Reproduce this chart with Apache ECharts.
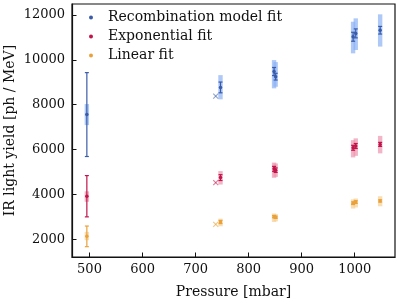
<!DOCTYPE html>
<html><head><meta charset="utf-8">
<script src="https://cdn.jsdelivr.net/npm/echarts@6/dist/echarts.min.js"></script>
<style>html,body{margin:0;padding:0;background:#fff}#c{width:399px;height:299px}</style>
</head><body><div id="c"></div>
<script>
const pressure = [495, 747, 848, 851, 997, 1002, 1048];
const recombValue = [7560, 8770, 9480, 9250, 11030, 11180, 11320];
const recombError = [1870, 240, 180, 150, 200, 200, 170];
const recombBandLow = [7090, 8240, 8730, 8800, 10290, 10440, 10590];
const recombBandHigh = [8030, 9320, 9990, 9900, 11700, 11850, 12030];
const expValue = [3920, 4750, 5140, 5080, 6080, 6160, 6230];
const expError = [920, 130, 110, 100, 110, 110, 90];
const expBandLow = [3670, 4440, 4740, 4780, 5650, 5720, 5830];
const expBandHigh = [4140, 5040, 5420, 5380, 6420, 6500, 6610];
const linValue = [2130, 2770, 3010, 2980, 3610, 3660, 3710];
const linError = [460, 70, 50, 50, 60, 60, 50];
const linBandLow = [1960, 2580, 2770, 2800, 3370, 3420, 3470];
const linBandHigh = [2330, 2920, 3150, 3120, 3780, 3820, 3920];
const crossPressure = [738];
const recombCross = [8380];
const expCross = [4530];
const linCross = [2660];
const xTicks = [500, 600, 700, 800, 900, 1000];
const yTicks = [2000, 4000, 6000, 8000, 10000, 12000];
const names = ['Recombination model fit', 'Exponential fit', 'Linear fit'];

const colors = ['#3a5ca8', '#c0144b', '#e9a23b'];
const bandColors = ['rgba(140,178,245,0.7)', 'rgba(236,150,175,0.7)', 'rgba(245,208,150,0.7)'];
const crossColors = ['rgba(58,92,168,0.55)', 'rgba(192,20,75,0.55)', 'rgba(233,162,59,0.6)'];
const FONT = 'DejaVu Serif';

function bandSeries(lo, hi, color) {
  return {
    type: 'custom', silent: true, z: 1,
    data: pressure.map((p, i) => [p, lo[i], hi[i]]),
    renderItem: (params, api) => {
      const a = api.coord([api.value(0), api.value(2)]);
      const b = api.coord([api.value(0), api.value(1)]);
      return {type: 'rect', shape: {x: a[0] - 2.2, y: a[1], width: 4.4, height: b[1] - a[1]}, style: {fill: color}};
    }
  };
}
function errSeries(val, err, color) {
  return {
    type: 'custom', silent: true, z: 2,
    data: pressure.map((p, i) => [p, val[i] - err[i], val[i] + err[i]]),
    renderItem: (params, api) => {
      const a = api.coord([api.value(0), api.value(2)]);
      const b = api.coord([api.value(0), api.value(1)]);
      const st = {stroke: color, lineWidth: 1.2};
      return {type: 'group', children: [
        {type: 'line', shape: {x1: a[0], y1: a[1], x2: b[0], y2: b[1]}, style: st},
        {type: 'line', shape: {x1: a[0] - 2, y1: a[1], x2: a[0] + 2, y2: a[1]}, style: st},
        {type: 'line', shape: {x1: b[0] - 2, y1: b[1], x2: b[0] + 2, y2: b[1]}, style: st}
      ]};
    }
  };
}
function pointSeries(name, val, color) {
  return {
    type: 'scatter', name: name, z: 3, symbol: 'circle', symbolSize: 3.5,
    itemStyle: {color: color, opacity: 1},
    data: pressure.map((p, i) => [p, val[i]])
  };
}
function crossSeries(val, color) {
  return {
    type: 'custom', silent: true, z: 3,
    data: crossPressure.map((p, i) => [p, val[i]]),
    renderItem: (params, api) => {
      const c = api.coord([api.value(0), api.value(1)]);
      const s = 2.5, st = {stroke: color, lineWidth: 1.1};
      return {type: 'group', children: [
        {type: 'line', shape: {x1: c[0] - s, y1: c[1] - s, x2: c[0] + s, y2: c[1] + s}, style: st},
        {type: 'line', shape: {x1: c[0] - s, y1: c[1] + s, x2: c[0] + s, y2: c[1] - s}, style: st}
      ]};
    }
  };
}

const chart = echarts.init(document.getElementById('c'), null, {renderer: 'canvas'});
chart.setOption({
  animation: false,
  textStyle: {fontFamily: FONT},
  grid: {left: 72, right: 4, top: 4, bottom: 42, show: true, borderColor: '#111', borderWidth: 1.2, containLabel: false, outerBoundsMode: 'none'},
  legend: {
    orient: 'vertical', left: 84, top: 3, itemWidth: 4, itemHeight: 4, itemGap: 0,
    data: names.map((n, i) => ({name: n, icon: 'circle', itemStyle: {color: colors[i]}})),
    textStyle: {fontFamily: FONT, fontSize: 14, color: '#111', lineHeight: 19, padding: [0, 0, 0, 10]},
    selectedMode: false
  },
  xAxis: {
    type: 'value', min: 467, max: 1076,
    name: 'Pressure [mbar]', nameLocation: 'middle', nameGap: 28, nameMoveOverlap: false,
    nameTextStyle: {fontFamily: FONT, fontSize: 14, color: '#111'},
    axisLine: {lineStyle: {color: '#111', width: 1.2}},
    axisTick: {inside: true, length: 4.5, lineStyle: {color: '#111', width: 1}, customValues: xTicks},
    axisLabel: {fontFamily: FONT, fontSize: 13, color: '#111', margin: 6, customValues: xTicks, formatter: v => String(v)},
    splitLine: {show: false}
  },
  yAxis: {
    type: 'value', min: 1210, max: 12490,
    name: 'IR light yield [ph / MeV]', nameLocation: 'middle', nameGap: 55, nameMoveOverlap: false,
    nameTextStyle: {fontFamily: FONT, fontSize: 14, color: '#111'},
    axisLine: {show: true, lineStyle: {color: '#111', width: 1.2}},
    axisTick: {show: true, inside: true, length: 4.5, lineStyle: {color: '#111', width: 1}, customValues: yTicks},
    axisLabel: {fontFamily: FONT, fontSize: 13, color: '#111', margin: 7, customValues: yTicks, formatter: v => String(v)},
    splitLine: {show: false}
  },
  series: [
    bandSeries(recombBandLow, recombBandHigh, bandColors[0]),
    bandSeries(expBandLow, expBandHigh, bandColors[1]),
    bandSeries(linBandLow, linBandHigh, bandColors[2]),
    errSeries(recombValue, recombError, colors[0]),
    errSeries(expValue, expError, colors[1]),
    errSeries(linValue, linError, colors[2]),
    pointSeries(names[0], recombValue, colors[0]),
    pointSeries(names[1], expValue, colors[1]),
    pointSeries(names[2], linValue, colors[2]),
    crossSeries(recombCross, crossColors[0]),
    crossSeries(expCross, crossColors[1]),
    crossSeries(linCross, crossColors[2])
  ]
});
</script></body></html>
